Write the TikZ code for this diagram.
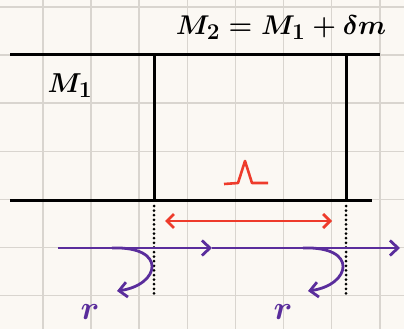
\documentclass[tikz,border=0pt]{standalone}
\usetikzlibrary{arrows.meta}
\definecolor{paper}{HTML}{FBF8F3}
\definecolor{gridgray}{HTML}{D9D5CF}
\definecolor{wavered}{HTML}{EE3B2B}
\definecolor{raypurple}{HTML}{5A2D9C}
\tikzset{
  wall/.style={line width=3pt,black},
  dotline/.style={line width=3pt,black,dash pattern=on 0pt off 4.6pt,line cap=round},
  ray/.style={line width=2.8pt,raypurple},
  barb/.style={-{Straight Barb[length=8pt,width=15pt]}},
  lab/.style={font=\fontsize{24.88}{30}\selectfont\boldmath,inner sep=0pt}
}
\begin{document}
\begin{tikzpicture}[x=1pt,y=-1pt]
  \fill[paper] (0,0) rectangle (404,329);
  \useasboundingbox (0,0) rectangle (404,329);
  \foreach \k in {0,...,7}{
    \draw[gridgray,line width=1.6pt] ({43+48.1*\k},0) -- ({43+48.1*\k},329);
  }
  \foreach \k in {0,...,6}{
    \draw[gridgray,line width=1.6pt] (0,{7+48.1*\k}) -- (404,{7+48.1*\k});
  }
  % walls of the tube
  \coordinate (tl) at (10,55);
  \coordinate (tr) at (380,55);
  \coordinate (bl) at (10,200);
  \coordinate (br) at (372,200);
  \coordinate (wa) at (154,55);
  \coordinate (wb) at (346,55);
  \coordinate (fa) at (154,200);
  \coordinate (fb) at (346,200);
  \coordinate (da) at (154,296);
  \coordinate (db) at (346,296);
  \draw[wall] (tl) -- (tr);
  \draw[wall] (bl) -- (br);
  \draw[wall] (wa) -- (fa);
  \draw[wall] (wb) -- (fb);
  \draw[dotline] ([yshift=-6pt]fa) -- (da);
  \draw[dotline] ([yshift=-6pt]fb) -- (db);
  \node[lab] (mone) at (70,86) {\scalebox{1.1}{$M_1$}};
  \node[lab] (mtwo) at (281,28) {\scalebox{1.09}{$M_2 = M_1 + \delta m$}};
  % pulse and span
  \draw[wavered,line width=2.6pt,line join=round] (224,184) -- (238,183) -- (245,161) -- (252,183) -- (268,183);
  \coordinate (sa) at (165,221);
  \coordinate (sb) at (332,221);
  \draw[wavered,line width=2.8pt,{Straight Barb[length=7pt,width=14pt]}-{Straight Barb[length=7pt,width=14pt]}] (sa) -- (sb);
  % incident and reflected rays
  \coordinate (ra) at (58,248);
  \coordinate (rm) at (212,248);
  \coordinate (rb) at (400,248);
  \draw[ray,barb] (ra) -- (rm);
  \draw[ray,barb] (rm) -- (rb);
  \coordinate (ca) at (112,248);
  \coordinate (cb) at (303,248);
  \draw[ray,barb] (ca) .. controls (168,246) and (160,285) .. (117,291);
  \draw[ray,barb] (cb) .. controls (359,246) and (351,285) .. (308,291);
  \node[lab,text=raypurple] (ra1) at (90,312) {\scalebox{1.35}{$r$}};
  \node[lab,text=raypurple] (ra2) at (283,312) {\scalebox{1.35}{$r$}};
\end{tikzpicture}
\end{document}
